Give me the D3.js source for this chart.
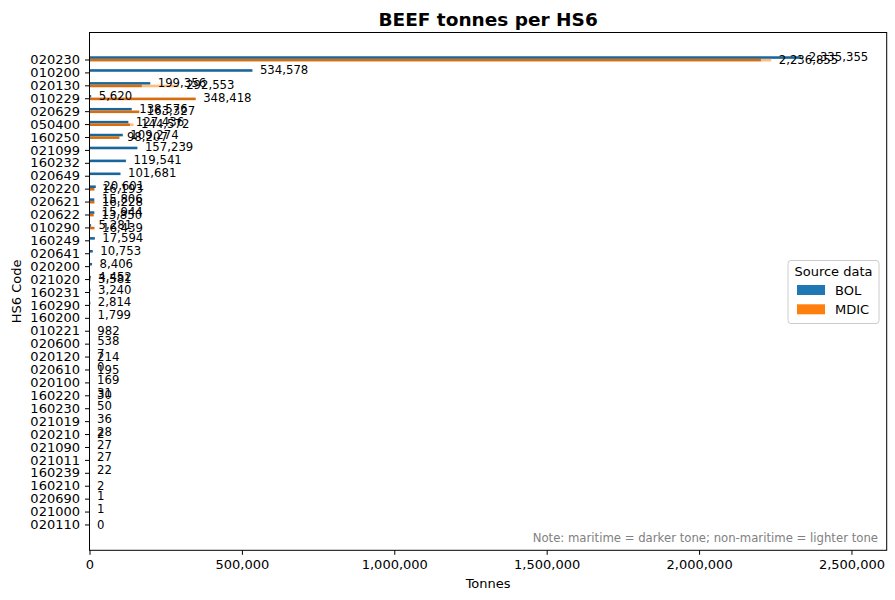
<!DOCTYPE html>
<html>
<head>
<meta charset="utf-8">
<script src="https://d3js.org/d3.v7.min.js"></script>
<style>
  body { margin: 0; background: #fff; }
  svg { font-family: "DejaVu Sans", sans-serif; }
  .axis text { font-size: 13px; fill: #000; font-family: "DejaVu Sans", sans-serif; }
  .axis path, .axis line { stroke: #000; stroke-width: 1px; }
</style>
<title>BEEF tonnes per HS6</title>
</head>
<body>
<script>
// HS6 codes, top to bottom
const categories = ["020230", "010200", "020130", "010229", "020629", "050400", "160250",
  "021099", "160232", "020649", "020220", "020621", "020622", "010290", "160249", "020641",
  "020200", "021020", "160231", "160290", "160200", "010221", "020600", "020120", "020610",
  "020100", "160220", "160230", "021019", "020210", "021090", "021011", "160239", "160210",
  "020690", "021000", "020110"];

// BOL tonnes (all maritime); null = no record
const bolMaritime = [2335355, 534578, 199356, 5620, 138576, 127436, 109274, 157239, 119541, 101681,
  20601, 15806, 15944, 5281, 17594, 10753, 8406, 4452, 3240, 2814,
  1799, null, 538, 7, 0, 169, 31, 50, 36, 28,
  27, 27, 22, null, 1, 1, null];

// MDIC tonnes split into maritime / non-maritime
const mdicMaritime = [2203000, null, 172000, 348418, 163327, 134000, 98207, null, null, null,
  16193, 16228, 13850, 16439, null, null, null, 3581, null, null,
  null, 982, null, 214, 195, null, 30, null, null, 2,
  null, null, null, 2, null, null, 0];
const mdicNonMaritime = [33855, null, 120553, 0, 0, 10572, 0, null, null, null,
  0, 0, 0, 0, null, null, null, 0, null, null,
  null, 0, null, 0, 0, null, 0, null, null, 0,
  null, null, null, 0, null, null, 0];

const xTicks = [0, 500000, 1000000, 1500000, 2000000, 2500000];

const W = 895, H = 600;
const plot = {left: 89.5, right: 886.7, top: 32.5, bottom: 550.3};

const colors = {
  BOL: {dark: "#1a6599", light: "#8fbbd9", legend: "#1f77b4"},
  MDIC: {dark: "#d96c0c", light: "#ffbb80", legend: "#ff7f0e"}
};

const svg = d3.select("body").append("svg")
  .attr("width", W).attr("height", H);

const x = d3.scaleLinear()
  .domain([0, d3.max(bolMaritime) * 1.12])
  .range([plot.left, plot.right]);

const y = d3.scaleLinear()
  .domain([-2.09, categories.length + 1])
  .range([plot.top, plot.bottom]);

const fmt = d3.format(",");
const barH = y(0.2) - y(0);

// build rows for each series
const rows = [];
categories.forEach((c, i) => {
  if (bolMaritime[i] !== null) {
    rows.push({src: "BOL", i: i, off: -0.25, mar: bolMaritime[i], non: 0});
  }
  if (mdicMaritime[i] !== null) {
    rows.push({src: "MDIC", i: i, off: -0.05, mar: mdicMaritime[i], non: mdicNonMaritime[i]});
  }
});

const g = svg.append("g");

// maritime (dark)
g.selectAll("rect.mar").data(rows).join("rect")
  .attr("class", "mar")
  .attr("x", x(0))
  .attr("y", d => y(d.i + d.off))
  .attr("width", d => x(d.mar) - x(0))
  .attr("height", barH)
  .attr("fill", d => colors[d.src].dark);

// non-maritime (light), stacked after maritime
g.selectAll("rect.non").data(rows.filter(d => d.non > 0)).join("rect")
  .attr("class", "non")
  .attr("x", d => x(d.mar))
  .attr("y", d => y(d.i + d.off))
  .attr("width", d => x(d.mar + d.non) - x(d.mar))
  .attr("height", barH)
  .attr("fill", d => colors[d.src].light);

// value labels
g.selectAll("text.val").data(rows).join("text")
  .attr("class", "val")
  .attr("x", d => x(d.mar + d.non) + 7.5)
  .attr("y", d => y(d.i + d.off + 0.1) - 0.5)
  .attr("dominant-baseline", "central")
  .attr("font-size", "11.7px")
  .text(d => fmt(d.mar + d.non));

// axes
svg.append("g")
  .attr("class", "axis")
  .attr("transform", `translate(0,${plot.bottom})`)
  .call(d3.axisBottom(x).tickValues(xTicks).tickFormat(fmt).tickSizeOuter(0).tickSize(4.5).tickPadding(5))
  .call(a => a.select(".domain").remove());

svg.append("g")
  .attr("class", "axis")
  .attr("transform", `translate(${plot.left},0)`)
  .call(d3.axisLeft(y).tickValues(d3.range(categories.length)).tickFormat(i => categories[i])
    .tickSizeOuter(0).tickSize(4.5).tickPadding(5))
  .call(a => a.select(".domain").remove());

// frame
svg.append("rect")
  .attr("x", plot.left).attr("y", plot.top)
  .attr("width", plot.right - plot.left).attr("height", plot.bottom - plot.top)
  .attr("fill", "none").attr("stroke", "#000").attr("stroke-width", 1);

// title and axis labels
svg.append("text")
  .attr("x", (plot.left + plot.right) / 2).attr("y", 19)
  .attr("text-anchor", "middle").attr("dominant-baseline", "central")
  .attr("font-size", "18.5px").attr("font-weight", "bold")
  .text("BEEF tonnes per HS6");

svg.append("text")
  .attr("x", (plot.left + plot.right) / 2).attr("y", 583)
  .attr("text-anchor", "middle").attr("dominant-baseline", "central")
  .attr("font-size", "13px")
  .text("Tonnes");

svg.append("text")
  .attr("transform", `translate(16,${(plot.top + plot.bottom) / 2}) rotate(-90)`)
  .attr("text-anchor", "middle").attr("dominant-baseline", "central")
  .attr("font-size", "13px")
  .text("HS6 Code");

// note
svg.append("text")
  .attr("x", 878).attr("y", 538)
  .attr("text-anchor", "end").attr("dominant-baseline", "central")
  .attr("font-size", "11.7px").attr("fill", "#808080")
  .text("Note: maritime = darker tone; non-maritime = lighter tone");

// legend
const lg = svg.append("g").attr("transform", "translate(788,260.5)");
lg.append("rect")
  .attr("width", 91).attr("height", 63).attr("rx", 3)
  .attr("fill", "#fff").attr("fill-opacity", 0.8)
  .attr("stroke", "#ccc");
lg.append("text")
  .attr("x", 45.5).attr("y", 10.5)
  .attr("text-anchor", "middle").attr("dominant-baseline", "central")
  .attr("font-size", "13px")
  .text("Source data");
["BOL", "MDIC"].forEach((s, k) => {
  lg.append("rect")
    .attr("x", 9).attr("y", 24.5 + k * 19.3)
    .attr("width", 28).attr("height", 10)
    .attr("fill", colors[s].legend);
  lg.append("text")
    .attr("x", 47).attr("y", 29.5 + k * 19.3)
    .attr("dominant-baseline", "central")
    .attr("font-size", "13px")
    .text(s);
});
</script>
</body>
</html>
